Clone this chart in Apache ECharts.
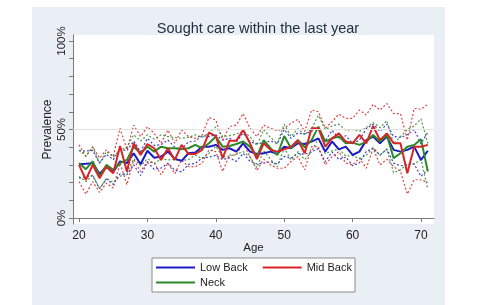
<!DOCTYPE html>
<html>
<head>
<meta charset="utf-8">
<script src="https://cdn.jsdelivr.net/npm/echarts@6/dist/echarts.min.js"></script>
<style>
  html, body { margin: 0; padding: 0; background: #fff; }
  #chart { width: 480px; height: 305px; }
</style>
</head>
<body>
<div id="chart"></div>
<script>
// ages 20..71
const ages = [20,21,22,23,24,25,26,27,28,29,30,31,32,33,34,35,36,37,38,39,40,41,42,43,44,45,
              46,47,48,49,50,51,52,53,54,55,56,57,58,59,60,61,62,63,64,65,66,67,68,69,70,71];

// prevalence (%)
const lowBack = [30.4,30.6,31,25,29,26,32,31,36.6,30.4,38,34,34.7,37.5,33.4,32.3,36.6,37,40.3,40.3,41.3,38.5,39.4,37.5,42.2,37.5,
                 36.2,36.6,37.5,36.2,40.3,39.4,42.2,41.8,43.2,45,37.5,43.2,38.8,40.3,35.6,37.5,44,46,42.2,46,38.5,37.5,38.5,40.3,32.8,38];
const lowBackHi = [38,37.8,38.2,31,36,33,39,38,43.5,37.5,45,41,41.5,44,40,39,43,43.5,46.5,46,47,44,45,43,48,43,
                   42,42.5,43.5,42,50,45,48,47.5,49,51,43.5,49.5,45,46.5,42,44,50.5,53,49,53,46,45.5,47,50,42,48.5];
const lowBackLo = [22.5,23.2,23.8,16.5,22,19,25,24.5,30,24,31.5,27.5,28.2,31,27,26,30.3,30.8,34,34.3,35.5,33,34,32,36.5,32,
                   30.5,31,31.8,30.5,34.8,33.8,36.5,36,37.5,39.2,31.8,37.3,33,34.5,29.5,31.2,37.5,39.5,35.5,39,31,29.5,30,30.5,23.5,27.5];

const midBack = [30,21.6,30,22.5,29,25.3,40.7,26.3,42.2,35.6,41.8,39.4,32.8,39.4,32.8,41.3,36.2,36.2,38.5,48.2,46.3,33.8,43.7,43.7,49.7,42.2,
                 33.2,42.2,38.5,37.5,38.8,40.3,44,36.6,50.7,50.7,40.3,45,47.8,43.2,42.2,46.9,42.2,52,44,47.8,42.2,42.2,25.3,40.3,40.3,41.3];
const midBackHi = [41.3,34.7,40.3,33.8,38.5,34.7,50.7,38.5,52.5,46,51.6,47.8,42.2,49.7,42.2,49.7,46,45,46.9,56.8,55.3,44,51.6,52.5,59,50.7,
                   46,52.5,50.7,49.3,50.7,53.5,55.7,48.8,61,60,50.7,54.4,58.7,56.3,56.3,61,58.2,64.2,61,64.7,59,59,44,61.9,61.4,64.2];
const midBackLo = [20.6,13.5,20.6,14.4,19.7,16.9,31,18.8,32.8,26.3,31.9,31,24.4,31,25,32.8,29,29,31,38.5,37.5,26.3,35.6,35.6,42.2,34.7,
                   26.8,33.2,30,28.1,28.1,31.9,34.7,27.2,40.3,40.3,30,34.7,37.5,31,30,33.8,28.1,39.4,30,33.2,29,26.3,13.5,21.6,21.6,20.1];

const neck = [31,27.6,32,23.5,30,27.2,31,32.8,40.3,36.6,40.3,37.5,40.3,39.4,39.4,38.8,39.4,41.3,39.4,42.2,46,40.3,40.7,41.8,43.2,40.3,
              34.7,44,39.4,35.6,46.3,39.4,44,40,44,51.6,43.2,45,46,42.2,42.6,41.3,43.2,46.9,43.2,46.9,33.8,36.6,40.3,41.3,44.5,26.3];
const neckHi = [38.5,35,40,31,37.5,34.5,38.5,40,47,43.5,47,44.5,47,46,45.5,45,45.5,47,45.5,48,51.5,46,46.5,47.5,49,46,
                41,50,45.5,42,53,46,50.5,47,50.5,58,50,52,53,49.5,50,49,51,54,51,55,42,46,50,52,56,42];
const neckLo = [23.5,20.5,24.5,16.5,22.5,20,23.5,25.5,33.5,29.5,33.5,30.5,33.5,32.8,33,32.5,33,35.5,33.5,36.5,40.5,34.5,35,36,37.5,34.5,
                28.5,38,33.2,29,39.5,32.8,37.5,33,37.5,45,36.4,38,39,35,35.2,33.6,35.4,39.8,35.4,38.8,25.6,27.2,30.6,30.6,33,16.3];

const xTicks = [20, 30, 40, 50, 60, 70];
const yTicks = [0, 10, 20, 30, 40, 50, 60, 70, 80, 90, 100];
const yLabels = [0, 50, 100];

const BLUE = '#1c1cc4';
const RED = '#d82424';
const GREEN = '#2a8a2a';
const FONT = 'Liberation Sans, Arial';

function pairs(vals) {
    return ages.map((a, i) => [a, vals[i]]);
}

function ciLine(name, vals, color) {
    return {
        name: name,
        type: 'line',
        data: pairs(vals),
        symbol: 'none',
        silent: true,
        z: 2,
        lineStyle: { color: color, width: 1.2, type: [2, 2], opacity: 0.85 }
    };
}

function meanLine(name, vals, color) {
    return {
        name: name,
        type: 'line',
        data: pairs(vals),
        symbol: 'none',
        z: 3,
        itemStyle: { color: color },
        lineStyle: { color: color, width: 2 }
    };
}

const chart = echarts.init(document.getElementById('chart'));

const legendBase = {
    left: 156,
    padding: 0,
    icon: 'rect',
    itemWidth: 39,
    itemHeight: 2,
    itemGap: 15,
    textStyle: { fontFamily: FONT, fontSize: 11, color: '#222' }
};

const option = {
    animation: false,
    backgroundColor: '#ffffff',
    graphic: [
        {
            type: 'rect',
            z: -10,
            shape: { x: 32, y: 7, width: 413, height: 298 },
            style: { fill: '#e9eff4' }
        },
        {
            type: 'rect',
            z: 1,
            shape: { x: 152, y: 258, width: 203, height: 34 },
            style: { fill: '#ffffff', stroke: '#8a8a8a', lineWidth: 1 }
        }
    ],
    title: {
        text: 'Sought care within the last year',
        left: 253,
        top: 16,
        textAlign: 'center',
        textStyle: { fontFamily: FONT, fontSize: 14.5, fontWeight: 'normal', color: '#22303f' }
    },
    legend: [
        Object.assign({ data: ['Low Back', 'Mid Back'], top: 262 }, legendBase),
        Object.assign({ data: ['Neck'], top: 277 }, legendBase)
    ],
    grid: {
        left: 73,
        right: 46,
        top: 35,
        bottom: 81,
        show: true,
        backgroundColor: '#ffffff',
        borderWidth: 0
    },
    xAxis: {
        type: 'value',
        min: 19.12,
        max: 71.9,
        name: 'Age',
        nameLocation: 'middle',
        nameGap: 18,
        nameMoveOverlap: false,
        nameTextStyle: { fontFamily: FONT, fontSize: 11.5, color: '#222' },
        axisLine: { show: true, lineStyle: { color: '#7a7a7a', width: 1 } },
        axisTick: { show: true, length: 4, customValues: xTicks, lineStyle: { color: '#7a7a7a' } },
        axisLabel: {
            customValues: xTicks,
            margin: 6,
            fontFamily: FONT,
            fontSize: 12,
            color: '#222'
        },
        splitLine: { show: false }
    },
    yAxis: {
        type: 'value',
        min: -3.4,
        max: 103.4,
        name: 'Prevalence',
        nameLocation: 'middle',
        nameGap: 19,
        nameMoveOverlap: false,
        nameRotate: 90,
        nameTextStyle: { fontFamily: FONT, fontSize: 12, color: '#222' },
        axisLine: { show: true, lineStyle: { color: '#7a7a7a', width: 1 } },
        axisTick: { show: true, length: 4, customValues: yTicks, lineStyle: { color: '#7a7a7a' } },
        axisLabel: {
            customValues: yLabels,
            rotate: 90,
            margin: 5,
            fontFamily: FONT,
            fontSize: 11.5,
            color: '#222',
            formatter: v => v + '%'
        },
        splitLine: { show: false }
    },
    series: [
        Object.assign(ciLine('lbHi', lowBackHi, BLUE), {
            markLine: {
                silent: true,
                symbol: 'none',
                label: { show: false },
                lineStyle: { color: '#e2e2e2', width: 1, type: 'solid' },
                data: [{ yAxis: 50 }]
            }
        }),
        ciLine('lbLo', lowBackLo, BLUE),
        ciLine('mbHi', midBackHi, RED),
        ciLine('mbLo', midBackLo, RED),
        ciLine('nHi', neckHi, GREEN),
        ciLine('nLo', neckLo, GREEN),
        meanLine('Low Back', lowBack, BLUE),
        meanLine('Neck', neck, GREEN),
        meanLine('Mid Back', midBack, RED)
    ]
};

chart.setOption(option);
</script>
</body>
</html>
